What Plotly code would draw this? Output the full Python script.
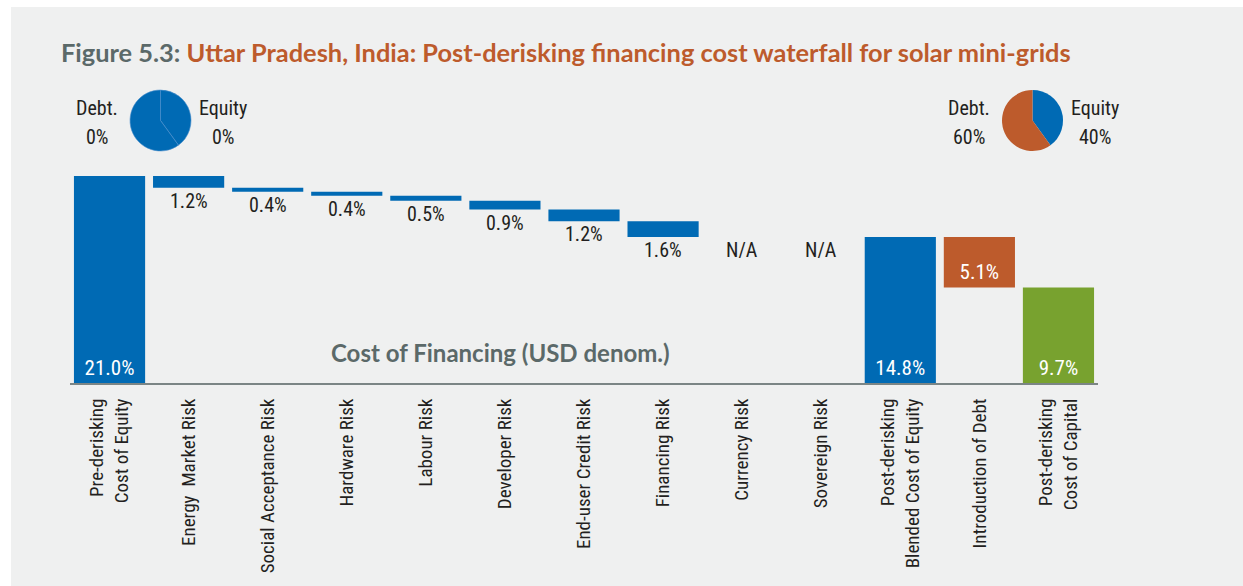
import plotly.graph_objects as go

categories = ["Pre-derisking<br>Cost of Equity", "Energy&nbsp; Market Risk", "Social Acceptance Risk",
              "Hardware Risk", "Labour Risk", "Developer Risk", "End-user Credit Risk",
              "Financing Risk", "Currency Risk", "Sovereign Risk",
              "Post-derisking<br>Blended Cost of Equity", "Introduction of Debt",
              "Post-derisking<br>Cost of Capital"]
pre_derisking_coe = 21.0
risk_reductions = [1.2, 0.4, 0.4, 0.5, 0.9, 1.2, 1.6, None, None]
post_coe = 14.8
debt_effect = 5.1
post_wacc = 9.7
pie_before = {"Debt.": 0, "Equity": 0}
pie_after = {"Debt.": 60, "Equity": 40}
pie_slices_left = [40, 60]
pie_slices_right = [40, 60]

BLUE = "#006ab4"
ORANGE = "#bd5b2c"
GREEN = "#78a22f"
BG = "#eff0f0"
DARK = "#231f20"
SLATE = "#5b6969"
COND = "Liberation Sans Narrow, Roboto Condensed, DejaVu Sans Condensed, Roboto, sans-serif"
BOLD = "Lato, Open Sans, sans-serif"

fig = go.Figure()

# Big bars
big_x = [categories[0], categories[10], categories[11], categories[12]]
big_y = [pre_derisking_coe, post_coe, debt_effect, post_wacc]
big_base = [0, 0, post_wacc, 0]
big_col = [BLUE, BLUE, ORANGE, GREEN]
fig.add_trace(go.Bar(
    x=big_x, y=big_y, base=big_base, marker=dict(color=big_col, line=dict(width=0)),
    text=[f"{v:.1f}%" for v in big_y], textposition="inside", insidetextanchor="start",
    textfont=dict(color="white", size=21, family=COND), width=0.9,
    hoverinfo="skip", cliponaxis=False, constraintext="none"))

# Risk reduction bars
rx, ry, rb = [], [], []
running = pre_derisking_coe
annots = []
for cat, r in zip(categories[1:10], risk_reductions):
    if r is None:
        annots.append(dict(x=cat, y=running, text="N/A"))
        continue
    rx.append(cat); ry.append(r); rb.append(running - r)
    running -= r
    annots.append(dict(x=cat, y=running, text=f"{r:.1f}%"))
fig.add_trace(go.Bar(x=rx, y=ry, base=rb, marker=dict(color=BLUE, line=dict(width=0)),
                     width=0.9, hoverinfo="skip"))

for a in annots:
    fig.add_annotation(x=a["x"], y=a["y"], text=a["text"], showarrow=False,
                       yanchor="top", yshift=1, font=dict(size=20, color=DARK, family=COND))

# Pies
fig.add_trace(go.Pie(values=pie_slices_left, sort=False, direction="clockwise",
                     marker=dict(colors=[BLUE, BLUE], line=dict(color="#4b8fcc", width=0.6)),
                     textinfo="none", hoverinfo="skip", showlegend=False,
                     domain=dict(x=[0.0584, 0.1177], y=[0.7657, 0.967])))
fig.add_trace(go.Pie(values=pie_slices_right, sort=False, direction="clockwise",
                     marker=dict(colors=[BLUE, ORANGE], line=dict(width=0)),
                     textinfo="none", hoverinfo="skip", showlegend=False,
                     domain=dict(x=[0.9066, 0.966], y=[0.7657, 0.967])))

def px2x(px):
    return (px - 70) / 1028
def px2y(py):
    return (383 - py) / 303

pie_labels = [
    (97, "Debt.", f"{pie_before['Debt.']}%"),
    (223, "Equity", f"{pie_before['Equity']}%"),
    (969, "Debt.", f"{pie_after['Debt.']}%"),
    (1095, "Equity", f"{pie_after['Equity']}%"),
]
for px, t1, t2 in pie_labels:
    for py, t in ((108, t1), (137, t2)):
        fig.add_annotation(xref="paper", yref="paper", x=px2x(px), y=px2y(py), text=t,
                           showarrow=False, xanchor="center", yanchor="middle",
                           font=dict(size=20, color=DARK, family=COND))

# Title
fig.add_annotation(xref="paper", yref="paper", x=px2x(59), y=px2y(52), xanchor="left",
                   yanchor="middle", showarrow=False,
                   text="<b><span style='color:#5b6969'>Figure 5.3: </span>"
                        "<span style='color:#bd5b2c'>Uttar Pradesh, India: Post-derisking financing cost waterfall for solar mini-grids</span></b>",
                   font=dict(size=25.4, family=BOLD))
fig.add_annotation(xref="paper", yref="paper", x=px2x(500), y=px2y(352), xanchor="center",
                   yanchor="middle", showarrow=False,
                   text="<b>Cost of Financing (USD denom.)</b>",
                   font=dict(size=24, family=BOLD, color=SLATE))

# Background white strips
fig.add_shape(type="rect", xref="paper", yref="paper", x0=px2x(-5), x1=px2x(1250),
              y0=px2y(7), y1=px2y(-5), fillcolor="white", line=dict(width=0), layer="below")
fig.add_shape(type="rect", xref="paper", yref="paper", x0=px2x(-5), x1=px2x(11),
              y0=px2y(600), y1=px2y(-5), fillcolor="white", line=dict(width=0), layer="below")

fig.update_layout(
    width=1243, height=586, margin=dict(l=70, r=145, t=80, b=203),
    paper_bgcolor=BG, plot_bgcolor=BG, showlegend=False, barmode="overlay",
    xaxis=dict(type="category", categoryorder="array", categoryarray=categories,
               range=[-0.5, 12.5], tickangle=-90, showgrid=False, zeroline=False,
               showline=True, linecolor="#7b8585", linewidth=2, ticks="outside",
               ticklen=6, tickcolor="rgba(0,0,0,0)",
               tickfont=dict(size=19, color=DARK, family=COND)),
    yaxis=dict(range=[0, 21 * 303 / 207], visible=False, showgrid=False, zeroline=False),
)

fig.write_html("out.html", config={"displayModeBar": False},
               post_script="document.body.style.margin='0';document.body.style.overflow='hidden';")
